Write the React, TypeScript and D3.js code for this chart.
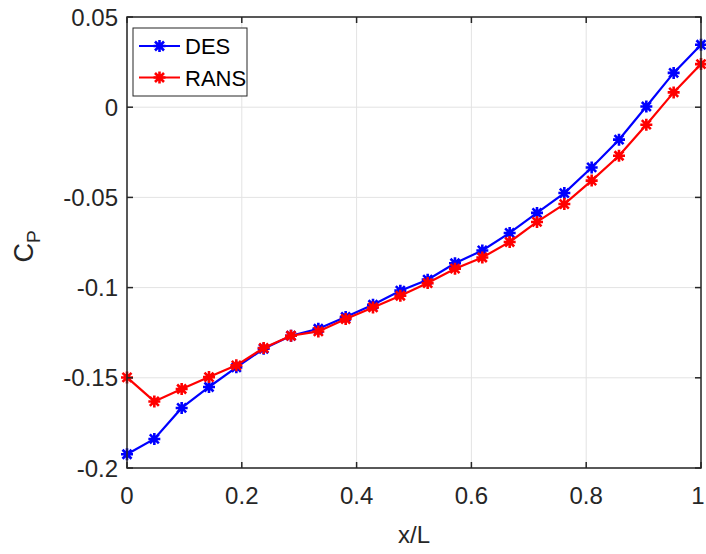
import React, { useEffect, useRef } from "react";
import * as d3 from "d3";

// x/L stations (22 points, step 1/21)
const xL = d3.range(22).map((i) => i / 21);

// pressure coefficient
const cpDES = [
  -0.1924, -0.1839, -0.1667, -0.1551, -0.1442, -0.1339, -0.1267, -0.1228,
  -0.1163, -0.1095, -0.1017, -0.0956, -0.0865, -0.0794, -0.0697, -0.0586,
  -0.0476, -0.0334, -0.018, 0.0004, 0.019, 0.0346,
];
const cpRANS = [
  -0.1498, -0.1631, -0.1562, -0.1496, -0.1431, -0.1335, -0.1267, -0.1243,
  -0.1174, -0.111, -0.1045, -0.0975, -0.0895, -0.0833, -0.0747, -0.0636,
  -0.0537, -0.0407, -0.0269, -0.0097, 0.0082, 0.0239,
];

const xTicks = [0, 0.2, 0.4, 0.6, 0.8, 1];
const yTicks = [-0.2, -0.15, -0.1, -0.05, 0, 0.05];

const series = [
  { name: "DES", values: cpDES, color: "#0000ff" },
  { name: "RANS", values: cpRANS, color: "#ff0000" },
];

const W = 706;
const H = 554;
const margin = { top: 17, right: 5, bottom: 86, left: 127 };

const App = () => {
  const ref = useRef<SVGSVGElement>(null);

  useEffect(() => {
    const svg = d3.select(ref.current);
    svg.selectAll("*").remove();

    const x = d3.scaleLinear().domain([0, 1]).range([margin.left, W - margin.right]);
    const y = d3.scaleLinear().domain([-0.2, 0.05]).range([H - margin.bottom, margin.top]);
    const font = "'Liberation Sans', Arial, Helvetica, sans-serif";

    // grid
    const grid = svg.append("g").attr("stroke", "#e3e3e3").attr("stroke-width", 1);
    xTicks.forEach((t) => {
      grid.append("line").attr("x1", x(t)).attr("x2", x(t)).attr("y1", y(-0.2)).attr("y2", y(0.05));
    });
    yTicks.forEach((t) => {
      grid.append("line").attr("x1", x(0)).attr("x2", x(1)).attr("y1", y(t)).attr("y2", y(t));
    });

    // series lines + asterisk markers
    const line = d3
      .line<number>()
      .x((d, i) => x(xL[i]))
      .y((d) => y(d));

    const star = (g: any, cx: number, cy: number, color: string) => {
      const r = 6;
      const d = r * 0.75;
      const p = `M${cx - r},${cy}L${cx + r},${cy}M${cx},${cy - r}L${cx},${cy + r}` +
        `M${cx - d},${cy - d}L${cx + d},${cy + d}M${cx - d},${cy + d}L${cx + d},${cy - d}`;
      g.append("path").attr("d", p).attr("stroke", color).attr("stroke-width", 2.6).attr("fill", "none");
    };

    series.forEach((s) => {
      const g = svg.append("g");
      g.append("path")
        .attr("d", line(s.values))
        .attr("fill", "none")
        .attr("stroke", s.color)
        .attr("stroke-width", 2.2);
      s.values.forEach((v, i) => star(g, x(xL[i]), y(v), s.color));
    });

    // axes box and ticks
    const ax = svg.append("g").attr("stroke", "#262626").attr("stroke-width", 1.5);
    ax.append("rect")
      .attr("x", x(0))
      .attr("y", y(0.05))
      .attr("width", x(1) - x(0))
      .attr("height", y(-0.2) - y(0.05))
      .attr("fill", "none");
    const tl = 6;
    xTicks.forEach((t) => {
      ax.append("line").attr("x1", x(t)).attr("x2", x(t)).attr("y1", y(-0.2)).attr("y2", y(-0.2) - tl);
      ax.append("line").attr("x1", x(t)).attr("x2", x(t)).attr("y1", y(0.05)).attr("y2", y(0.05) + tl);
    });
    yTicks.forEach((t) => {
      ax.append("line").attr("x1", x(0)).attr("x2", x(0) + tl).attr("y1", y(t)).attr("y2", y(t));
      ax.append("line").attr("x1", x(1)).attr("x2", x(1) - tl).attr("y1", y(t)).attr("y2", y(t));
    });

    // tick labels
    svg.append("g")
      .selectAll("text")
      .data(xTicks)
      .join("text")
      .attr("x", (d) => Math.min(x(d), W - 8))
      .attr("y", y(-0.2) + 36)
      .attr("text-anchor", "middle")
      .attr("font-family", font)
      .attr("font-size", 24)
      .attr("fill", "#262626")
      .text((d) => String(d));

    svg.append("g")
      .selectAll("text")
      .data(yTicks)
      .join("text")
      .attr("x", x(0) - 9)
      .attr("y", (d) => y(d) + 8.5)
      .attr("text-anchor", "end")
      .attr("font-family", font)
      .attr("font-size", 24)
      .attr("fill", "#262626")
      .text((d) => String(d));

    // axis labels
    svg.append("text")
      .attr("x", (x(0) + x(1)) / 2)
      .attr("y", 543)
      .attr("text-anchor", "middle")
      .attr("font-family", font)
      .attr("font-size", 24)
      .attr("fill", "#262626")
      .text("x/L");

    const yl = svg.append("text")
      .attr("transform", `translate(33,${(y(-0.2) + y(0.05)) / 2 + 4}) rotate(-90)`)
      .attr("text-anchor", "middle")
      .attr("font-family", font)
      .attr("font-size", 27)
      .attr("fill", "#262626");
    yl.append("tspan").text("C");
    yl.append("tspan").attr("font-size", 19).attr("dy", 7).text("P");

    // legend
    const lg = svg.append("g");
    lg.append("rect")
      .attr("x", 133)
      .attr("y", 28)
      .attr("width", 114)
      .attr("height", 68)
      .attr("fill", "#ffffff")
      .attr("stroke", "#262626")
      .attr("stroke-width", 1);
    series.forEach((s, i) => {
      const ly = 46 + i * 31.5;
      lg.append("line")
        .attr("x1", 139)
        .attr("x2", 180)
        .attr("y1", ly)
        .attr("y2", ly)
        .attr("stroke", s.color)
        .attr("stroke-width", 2.2);
      star(lg, 159.5, ly, s.color);
      lg.append("text")
        .attr("x", 185)
        .attr("y", ly + 8)
        .attr("font-family", font)
        .attr("font-size", 22)
        .attr("fill", "#000")
        .text(s.name);
    });
  }, []);

  return (
    <svg
      ref={ref}
      width={W}
      height={H}
      style={{ position: "absolute", left: 0, top: 0, background: "#fff" }}
    />
  );
};

export default App;
